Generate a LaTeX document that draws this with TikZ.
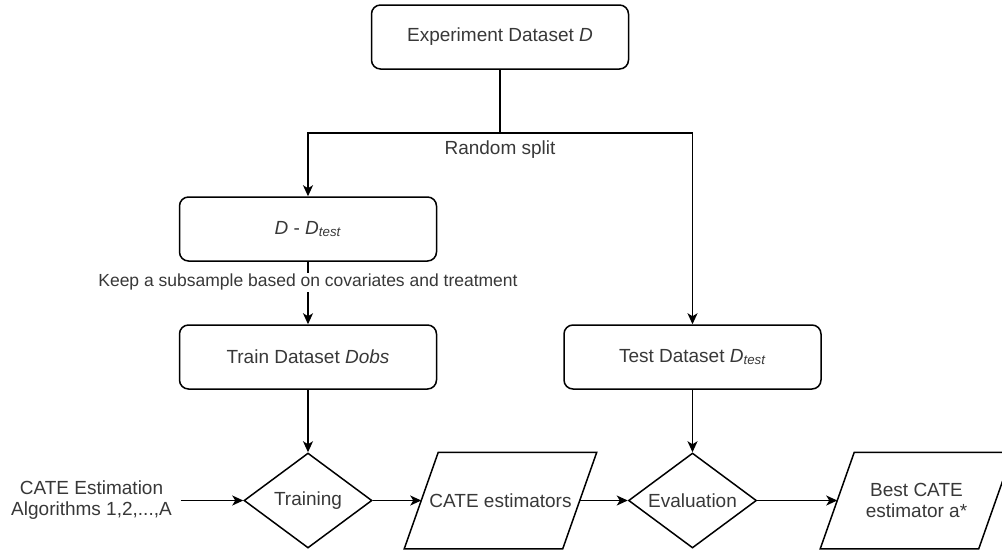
\documentclass[tikz,border=0pt]{standalone}
\usepackage{fontspec}
\setmainfont{Liberation Sans}
\usetikzlibrary{shapes.geometric,arrows.meta}
\definecolor{txt}{HTML}{383838}
\newcommand{\mainfs}{\fontsize{19}{21}\selectfont}
\newcommand{\smallfs}{\fontsize{17.5}{20}\selectfont}
\begin{document}
\begin{tikzpicture}[x=1pt,y=-1pt, line width=1.5pt,
  >={Stealth[length=11pt,width=10pt,inset=3pt]},
  box/.style={draw, rounded corners=9pt, minimum width=257pt, minimum height=64pt, inner sep=0pt, font=\mainfs, text=txt},
  dec/.style={draw, diamond, aspect=1.34, minimum width=128pt, minimum height=95pt, inner sep=0pt, font=\mainfs, text=txt},
  io/.style={minimum width=157pt, minimum height=95pt, inner sep=0pt, align=center, font=\mainfs, text=txt},
  lbl/.style={font=\mainfs, text=txt, align=center},
  para/.style={draw, line join=miter}]
\useasboundingbox (0,0) rectangle (1002,555);
\clip (0,0) rectangle (1002,555);

\node[box] (top) at (500,37) {Experiment Dataset \textit{D}};
\node[box] (dd) at (308,229) {\textit{D} - \textit{D}\textsubscript{\textit{test}}};
\node[box] (train) at (308,357) {Train Dataset \textit{Dobs}};
\node[box] (test) at (692.5,357) {Test Dataset \textit{D}\textsubscript{\textit{test}}};

\node[dec] (training) at (308,500.5) {Training};
\node[dec] (eval) at (692.5,500.5) {Evaluation};

\node[io] (est) at (500.5,500.5) {CATE estimators};
\draw[para] ([xshift=-17pt]est.south west) -- ([xshift=17pt]est.north west) -- ([xshift=17pt]est.north east) -- ([xshift=-17pt]est.south east) -- cycle;
\node[io] (best) at (916.5,500.5) {Best CATE\\estimator a*};
\draw[para] ([xshift=-17pt]best.south west) -- ([xshift=17pt]best.north west) -- ([xshift=17pt]best.north east) -- ([xshift=-17pt]best.south east) -- cycle;

\node[lbl, inner xsep=8pt] (algo) at (91.5,500.5) {CATE Estimation\\Algorithms 1,2,...,A};

\coordinate (split) at (500,133);
\draw (top.south) -- (split);
\draw[->] (split) -| (dd.north);
\draw[->] (split) -| (test.north);
\node[lbl] (rs) at (500,150) {Random split};

\draw[->] (dd.south) -- node[pos=0.33, fill=white, inner sep=1pt, font=\smallfs, text=txt] (keep) {Keep a subsample based on covariates and treatment} (train.north);
\draw[->] (train.south) -- (training.north);
\draw[->] (test.south) -- (eval.north);
\draw[->] (algo.east) -- (training.west);
\draw[->] (training.east) -- (est.west);
\draw[->] (est.east) -- (eval.west);
\draw[->] (eval.east) -- (best.west);
\end{tikzpicture}
\end{document}
